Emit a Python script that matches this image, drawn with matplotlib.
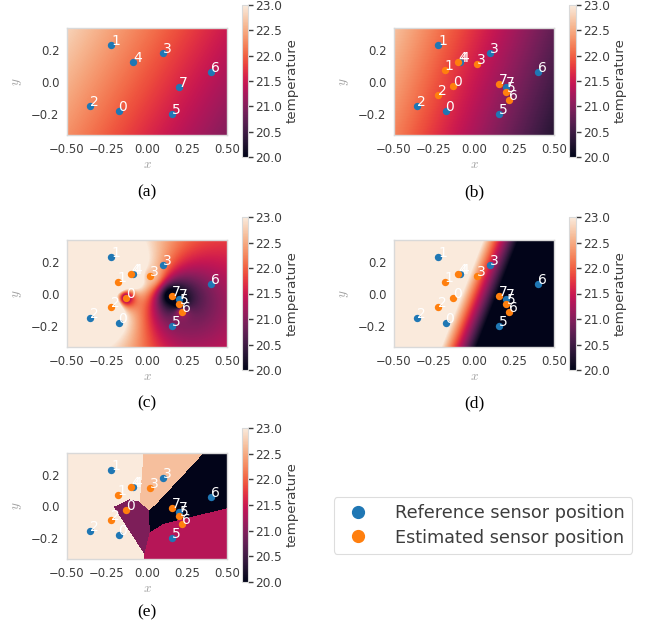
import numpy as np
import matplotlib
matplotlib.use('Agg')
import matplotlib.pyplot as plt
import seaborn as sns
from matplotlib.lines import Line2D

# sensor positions
REF_X = [-0.178, -0.224, -0.355, 0.100, -0.087, 0.156, 0.400, 0.199]
REF_Y = [-0.181, 0.229, -0.152, 0.179, 0.122, -0.200, 0.061, -0.034]
EST_X = [-0.132, -0.182, -0.223, 0.020, -0.097, 0.203, 0.216, 0.155]
EST_Y = [-0.025, 0.072, -0.084, 0.113, 0.122, -0.060, -0.113, -0.013]
SENSOR_TEMP = [20.95, 25.0, 25.0, 22.65, 25.0, 19.5, 21.35, 19.5]

# linear fields: offset, x slope, y slope
PLANE_A = [21.9, -1.3, 0.75]
PLANE_B = [21.48, -1.9, 0.67]
PLANE_D = [21.98, -13.6, 5.33]
IDW_POWER = 2

TEMP_MIN, TEMP_MAX = 20.0, 23.0
X_LIM = (-0.5, 0.5)
Y_LIM = (-0.330, 0.335)
XTICKS = [-0.5, -0.25, 0.0, 0.25, 0.5]
YTICKS = [-0.2, 0.0, 0.2]
CBAR_TICKS = [20.0, 20.5, 21.0, 21.5, 22.0, 22.5, 23.0]
CAPTIONS = ['(a)', '(b)', '(c)', '(d)', '(e)']
LEGEND_LABELS = ['Reference sensor position', 'Estimated sensor position']

W, H = 646, 632
BLUE = '#1f77b4'
ORANGE = '#ff7f0e'
TXT = '#3d3d3d'
plt.rcParams['mathtext.fontset'] = 'cm'

cmap = sns.color_palette('rocket', as_cmap=True)

gx = np.linspace(X_LIM[0], X_LIM[1], 160)
gy = np.linspace(Y_LIM[0], Y_LIM[1], 107)
GX, GY = np.meshgrid(gx, gy)


def plane(p):
    return p[0] + p[1] * GX + p[2] * GY


def dist2(px, py):
    return (GX[..., None] - np.array(px)) ** 2 + (GY[..., None] - np.array(py)) ** 2


def idw(px, py, vals, power):
    w = 1.0 / np.maximum(dist2(px, py), 1e-12) ** (power / 2)
    return (w * np.array(vals)).sum(-1) / w.sum(-1)


def nearest(px, py, vals):
    return np.array(vals)[np.argmin(dist2(px, py), axis=-1)]


fields = [
    plane(PLANE_A),
    plane(PLANE_B),
    idw(EST_X, EST_Y, SENSOR_TEMP, IDW_POWER),
    plane(PLANE_D),
    nearest(EST_X, EST_Y, SENSOR_TEMP),
]

# pixel boxes: axes (x0, x1, y0, y1), colorbar (x0, x1, y0, y1), caption y
axes_px = [(67, 227, 28, 135), (394, 554, 28, 135), (67, 227, 240, 347),
           (394, 554, 240, 347), (67, 227, 453, 559)]
cbar_px = [(242, 248, 5, 157), (569, 576, 5, 157), (242, 248, 217, 370),
           (569, 576, 217, 370), (242, 248, 428, 582)]
cap_y = [192, 192, 403, 403, 612]


def frac(box):
    x0, x1, y0, y1 = box
    return [x0 / W, 1 - y1 / H, (x1 - x0) / W, (y1 - y0) / H]


fig = plt.figure(figsize=(W / 100, H / 100), dpi=100)

for k in range(5):
    ax = fig.add_axes(frac(axes_px[k]))
    im = ax.imshow(fields[k], extent=(X_LIM[0], X_LIM[1], Y_LIM[0], Y_LIM[1]),
                   origin='lower', cmap=cmap, vmin=TEMP_MIN, vmax=TEMP_MAX,
                   aspect='auto', interpolation='nearest')
    ax.scatter(REF_X, REF_Y, s=28, color=BLUE, zorder=3, linewidths=0)
    if k > 0:
        ax.scatter(EST_X, EST_Y, s=28, color=ORANGE, zorder=4, linewidths=0)
    for i in range(len(REF_X)):
        ax.text(REF_X[i], REF_Y[i], str(i), color='white', fontsize=10, zorder=5)
    if k > 0:
        for i in range(len(EST_X)):
            ax.text(EST_X[i], EST_Y[i], str(i), color='white', fontsize=10, zorder=5)
    ax.set_xlim(X_LIM)
    ax.set_ylim(Y_LIM)
    ax.set_xticks(XTICKS)
    ax.set_yticks(YTICKS)
    ax.tick_params(length=0, labelsize=8.4, labelcolor=TXT, pad=5.5)
    ax.set_xlabel('$x$', color='#a0a0a0', fontsize=9.5, labelpad=1.5)
    ax.set_ylabel('$y$', color='#a0a0a0', fontsize=9.5, labelpad=5)
    for s in ax.spines.values():
        s.set_color('#d9d9d9')
        s.set_linewidth(1.0)

    cax = fig.add_axes(frac(cbar_px[k]))
    cb = fig.colorbar(im, cax=cax, ticks=CBAR_TICKS, format='%.1f')
    cb.outline.set_edgecolor('#d9d9d9')
    cb.outline.set_linewidth(0.8)
    cax.tick_params(length=3.5, width=1, color=TXT, labelsize=8.7,
                    labelcolor=TXT, pad=1.5)
    cb.set_label('temperature', fontsize=9.6, color=TXT, labelpad=3)

    cx = (axes_px[k][0] + axes_px[k][1]) / 2 / W
    fig.text(cx, 1 - cap_y[k] / H, CAPTIONS[k], ha='center', va='center',
             fontsize=12.5, family='Liberation Serif', color='black')

handles = [
    Line2D([], [], marker='o', linestyle='none', color=BLUE, markersize=8.5),
    Line2D([], [], marker='o', linestyle='none', color=ORANGE, markersize=8.5),
]
leg = fig.legend(handles, LEGEND_LABELS,
                 loc='center', bbox_to_anchor=(483 / W, 1 - 525.5 / H),
                 fontsize=12.7, frameon=True, handletextpad=1.1,
                 labelspacing=0.35, labelcolor=TXT, fancybox=True)
leg.get_frame().set_edgecolor('#d5d5d5')
leg.get_frame().set_linewidth(0.8)

fig.savefig('out.png', dpi=100)
